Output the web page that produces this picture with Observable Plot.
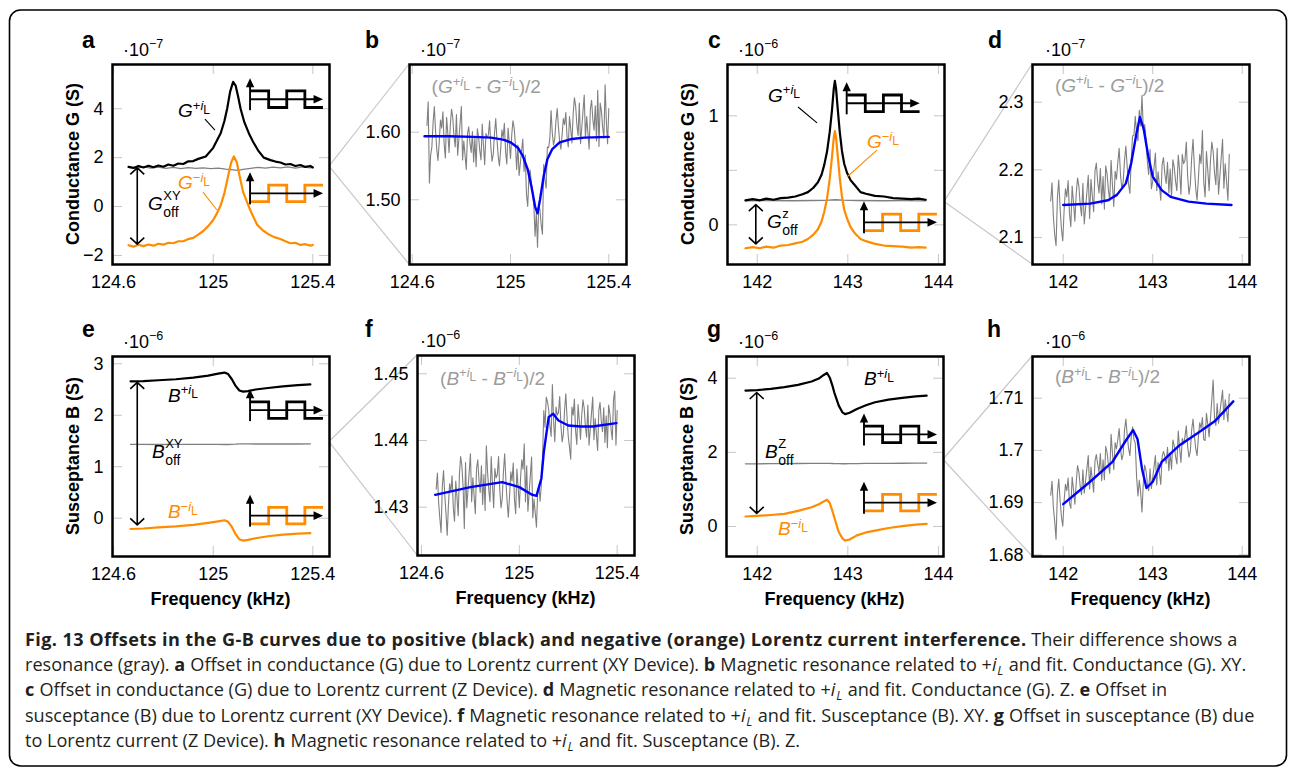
<!DOCTYPE html>
<html><head><meta charset="utf-8">
<script src="https://cdn.jsdelivr.net/npm/d3@7"></script>
<script src="https://cdn.jsdelivr.net/npm/@observablehq/plot@0.6"></script>
<style>
body{margin:0;background:#fff;}
#fig{position:relative;width:1295px;height:769px;overflow:hidden;background:#fff;}
</style></head><body><div id="fig"></div>
<script>
// ================= DATA =================
const xTicksXY = [124.6, 125, 125.4];
const xTickLabelsXY = ["124.6", "125", "125.4"];
const xTicksZ = [142, 143, 144];
const xTickLabelsZ = ["142", "143", "144"];
const aYTicks = [-2, 0, 2, 4];          const aYTickLabels = ["−2", "0", "2", "4"];
const bYTicks = [1.5, 1.6];             const bYTickLabels = ["1.50", "1.60"];
const cYTicks = [0, 0.5, 1];            const cYTickLabels = ["0", "", "1"];
const dYTicks = [2.1, 2.2, 2.3];        const dYTickLabels = ["2.1", "2.2", "2.3"];
const eYTicks = [0, 1, 2, 3];           const eYTickLabels = ["0", "1", "2", "3"];
const fYTicks = [1.43, 1.44, 1.45];     const fYTickLabels = ["1.43", "1.44", "1.45"];
const gYTicks = [0, 2, 4];              const gYTickLabels = ["0", "2", "4"];
const hYTicks = [1.68, 1.69, 1.7, 1.71];const hYTickLabels = ["1.68", "1.69", "1.7", "1.71"];

// frequency sweeps (kHz) of the difference traces
const sweepXY = [124.660,124.665,124.670,124.675,124.680,124.685,124.690,124.695,124.700,124.705,
124.710,124.715,124.720,124.725,124.730,124.735,124.740,124.745,124.750,124.755,
124.760,124.765,124.770,124.775,124.780,124.785,124.790,124.795,124.800,124.805,
124.810,124.815,124.820,124.825,124.830,124.835,124.840,124.845,124.850,124.855,
124.860,124.865,124.870,124.875,124.880,124.885,124.890,124.895,124.900,124.905,
124.910,124.915,124.920,124.925,124.930,124.935,124.940,124.945,124.950,124.955,
124.960,124.965,124.970,124.975,124.980,124.985,124.990,124.995,125.000,125.005,
125.010,125.015,125.020,125.025,125.030,125.035,125.040,125.045,125.050,125.055,
125.060,125.065,125.070,125.075,125.080,125.085,125.090,125.095,125.100,125.105,
125.110,125.115,125.120,125.125,125.130,125.135,125.140,125.145,125.150,125.155,
125.160,125.165,125.170,125.175,125.180,125.185,125.190,125.195,125.200,125.205,
125.210,125.215,125.220,125.225,125.230,125.235,125.240,125.245,125.250,125.255,
125.260,125.265,125.270,125.275,125.280,125.285,125.290,125.295,125.300,125.305,
125.310,125.315,125.320,125.325,125.330,125.335,125.340,125.345,125.350,125.355,
125.360,125.365,125.370,125.375,125.380,125.385,125.390,125.395,125.400];
const sweepZ = [141.860,141.875,141.890,141.905,141.920,141.935,141.950,141.965,141.980,141.995,
142.010,142.025,142.040,142.055,142.070,142.085,142.100,142.115,142.130,142.145,
142.160,142.175,142.190,142.205,142.220,142.235,142.250,142.265,142.280,142.295,
142.310,142.325,142.340,142.355,142.370,142.385,142.400,142.415,142.430,142.445,
142.460,142.475,142.490,142.505,142.520,142.535,142.550,142.565,142.580,142.595,
142.610,142.625,142.640,142.655,142.670,142.685,142.700,142.715,142.730,142.745,
142.760,142.775,142.790,142.805,142.820,142.835,142.850,142.865,142.880,142.895,
142.910,142.925,142.940,142.955,142.970,142.985,143.000,143.015,143.030,143.045,
143.060,143.075,143.090,143.105,143.120,143.135,143.150,143.165,143.180,143.195,
143.210,143.225,143.240,143.255,143.270,143.285,143.300,143.315,143.330,143.345,
143.360,143.375,143.390,143.405,143.420,143.435,143.450,143.465,143.480,143.495,
143.510,143.525,143.540,143.555,143.570,143.585,143.600,143.615,143.630,143.645,
143.660,143.675,143.690,143.705,143.720,143.735,143.750,143.765,143.780,143.795,
143.810,143.825,143.840,143.855];

// ---- panel a : conductance, XY device (1e-7 S)
const aFreqPlus = [124.66,124.68,124.70,124.72,124.74,124.76,124.78,124.80,124.82,124.84,
124.86,124.88,124.90,124.92,124.94,124.97,125.00,125.03,125.045,125.056,
125.068,125.08,125.09,125.10,125.11,125.125,125.143,125.16,125.18,125.203,
125.23,125.25,125.27,125.29,125.31,125.33,125.35,125.37,125.39,125.40];
const aGPlus = [1.62,1.58,1.66,1.60,1.67,1.61,1.68,1.63,1.72,1.67,
1.76,1.74,1.85,1.86,1.95,2.05,2.4,3.0,3.5,4.0,
4.7,5.1,4.95,4.5,4.0,3.45,3.0,2.65,2.3,2.0,
1.9,1.84,1.8,1.72,1.74,1.66,1.7,1.62,1.66,1.6];
const aFreqMinus = [124.66,124.68,124.70,124.72,124.74,124.76,124.78,124.80,124.82,124.84,
124.86,124.88,124.90,124.92,124.94,124.96,124.98,125.00,125.015,125.03,
125.045,125.06,125.072,125.083,125.095,125.105,125.12,125.135,125.145,125.16,
125.177,125.20,125.22,125.245,125.27,125.29,125.31,125.33,125.35,125.37,
125.39,125.40];
const aGMinus = [-1.58,-1.64,-1.56,-1.62,-1.55,-1.6,-1.52,-1.56,-1.48,-1.5,
-1.42,-1.42,-1.33,-1.28,-1.15,-1.0,-0.8,-0.55,-0.28,0.05,
0.55,1.25,1.8,2.05,1.8,1.3,0.6,0.2,-0.05,-0.4,
-0.75,-0.98,-1.12,-1.25,-1.33,-1.42,-1.5,-1.48,-1.57,-1.54,
-1.6,-1.57];
const aFreqDiff = [124.66,124.69,124.72,124.75,124.78,124.81,124.84,124.87,124.90,124.93,
124.96,124.99,125.02,125.05,125.08,125.10,125.12,125.15,125.18,125.21,
125.24,125.27,125.30,125.33,125.36,125.39,125.40];
const aGDiff = [1.6,1.56,1.62,1.57,1.61,1.56,1.6,1.55,1.59,1.56,
1.58,1.55,1.57,1.53,1.5,1.48,1.52,1.56,1.6,1.57,
1.61,1.58,1.62,1.57,1.62,1.58,1.6];

// ---- panel b : (G+ - G-)/2, XY (1e-7 S)
const bGDiff = [1.610,1.645,1.525,1.566,1.578,1.614,1.638,1.602,1.574,1.558,
1.586,1.618,1.606,1.630,1.582,1.562,1.622,1.598,1.570,1.610,
1.634,1.622,1.594,1.578,1.626,1.566,1.590,1.614,1.638,
1.559,1.587,1.566,1.545,1.598,1.608,1.584,1.570,1.601,1.556,
1.591,1.549,1.605,1.594,1.573,1.559,1.612,1.580,1.552,1.598,
1.592,1.596,1.617,1.578,1.557,1.568,1.599,1.620,1.589,1.564,
1.550,1.575,1.603,1.592,1.613,1.571,1.553,1.606,1.585,1.561,
1.596,1.617,1.606,1.582,
1.545,1.581,1.536,1.554,1.572,1.590,1.542,1.566,
1.508,1.490,1.535,1.544,1.523,1.511,
1.491,1.446,1.481,1.430,1.495,1.484,1.463,1.449,
1.552,1.530,1.517,1.578,1.577,1.590,
1.632,1.599,1.581,1.590,1.617,1.635,1.608,1.587,1.575,1.596,1.620,1.611,1.629,1.593,1.578,1.623,1.605,1.584,
1.627,1.651,1.639,1.611,1.595,1.643,1.583,1.607,1.631,1.655,1.591,1.623,1.599,1.575,1.635,
1.647,1.619,1.603,1.639,1.587,1.662,1.579,1.643,1.631,1.607,1.591,1.670,1.615,1.583,1.635];
const bFitFreq = [124.65,124.75,124.85,124.92,124.97,125.00,125.03,125.05,125.07,125.085,
125.10,125.11,125.12,125.135,125.15,125.17,125.20,125.25,125.30,125.40];
const bFit = [1.594,1.594,1.593,1.592,1.589,1.585,1.577,1.565,1.545,1.52,
1.49,1.48,1.50,1.535,1.56,1.575,1.585,1.59,1.592,1.593];

// ---- panel c : conductance, Z device (1e-6 S)
const cFreq = [141.87,141.95,142.03,142.10,142.18,142.26,142.34,142.42,142.50,142.56,
142.62,142.67,142.71,142.74,142.77,142.80,142.825,142.845,142.857,142.87,
142.89,142.91,142.935,142.96,142.99,143.03,143.08,143.14,143.20,143.30,
143.40,143.50,143.60,143.70,143.78,143.86];
const cGPlus = [.225,.235,.225,.24,.23,.245,.25,.26,.28,.30,
.34,.39,.46,.55,.67,.85,1.05,1.25,1.32,1.25,
1.05,.86,.68,.56,.48,.41,.36,.30,.285,.265,
.26,.245,.24,.235,.24,.23];
const cGMinus = [-.215,-.205,-.215,-.2,-.21,-.19,-.185,-.17,-.155,-.13,
-.09,-.04,.03,.12,.24,.42,.62,.80,.86,.80,
.62,.44,.26,.14,.06,-.02,-.08,-.13,-.15,-.175,
-.19,-.195,-.2,-.21,-.205,-.21];
const cFreqDiff = [141.87,142.1,142.4,142.6,142.75,142.86,142.95,143.1,143.4,143.6,143.86];
const cGDiff = [.22,.223,.221,.223,.225,.23,.226,.223,.221,.222,.22];

// ---- panel d : (G+ - G-)/2, Z (1e-7 S)
const dGDiff = [2.154,2.181,2.131,2.104,2.088,2.158,2.185,2.145,2.113,2.095,
2.140,2.172,2.160,2.184,2.136,2.116,2.176,2.152,2.124,2.164,
2.188,2.176,2.148,2.132,2.180,2.120,2.144,2.168,2.192,2.128,
2.186,2.162,2.138,2.198,2.210,2.182,2.166,2.202,2.150,2.190,
2.142,2.206,2.194,2.170,2.154,2.214,2.178,2.146,2.198,2.186,
2.211,2.232,2.193,2.172,2.183,2.214,2.235,2.204,2.179,2.165,
2.216,2.250,2.251,2.279,2.253,2.243,2.288,2.265,2.310,2.259,
2.267,2.246,2.212,2.193,2.230,2.172,2.183,2.204,2.225,2.169,
2.197,2.176,2.155,2.208,2.218,2.194,2.180,2.211,2.166,2.201,
2.159,2.215,2.204,2.183,2.169,2.222,2.200,2.164,2.223,2.209,
2.214,2.241,2.191,2.164,2.178,2.218,2.245,2.205,2.173,2.155,
2.187,2.223,2.209,2.258,2.182,2.160,2.227,2.200,2.169,2.214,
2.241,2.227,2.196,2.178,2.232,2.164,2.191,2.218,2.245,2.173,
2.209,2.182,2.155,2.223];
const dFitFreq = [142.0,142.3,142.5,142.6,142.7,142.76,142.82,142.857,142.9,142.95,143.0,143.1,143.2,143.4,143.6,143.88];
const dFit = [2.148,2.15,2.155,2.163,2.18,2.21,2.255,2.278,2.26,2.22,2.19,2.17,2.16,2.153,2.15,2.148];

// ---- panel e : susceptance, XY device (1e-6 S)
const eFreq = [124.668,124.72,124.78,124.85,124.92,124.98,125.02,125.045,125.06,125.075,
125.09,125.105,125.12,125.14,125.17,125.22,125.28,125.34,125.39];
const eBPlus = [2.66,2.665,2.68,2.70,2.73,2.77,2.81,2.83,2.80,2.70,
2.57,2.48,2.46,2.47,2.50,2.53,2.56,2.585,2.60];
const eBMinus = [-0.21,-0.2,-0.18,-0.16,-0.13,-0.09,-0.06,-0.04,-0.07,-0.17,
-0.31,-0.41,-0.435,-0.42,-0.39,-0.35,-0.32,-0.30,-0.29];
const eBDiff = [1.435,1.433,1.432,1.433,1.434,1.434,1.433,1.432,1.432,1.435,
1.438,1.443,1.444,1.443,1.442,1.442,1.442,1.442,1.443];

// ---- panel f : (B+ - B-)/2, XY (1e-6 S)
const fBDiff = [1.4327,1.4351,1.4307,1.4283,1.4262,1.4331,1.4355,1.4319,1.4291,1.4258,
1.4303,1.4335,1.4323,1.4347,1.4299,1.4279,1.4339,1.4315,1.4287,
1.4349,1.4376,1.4362,1.4331,1.4268,1.4367,1.4299,1.4326,1.4353,1.4380,
1.4308,1.4344,1.4317,1.4290,1.4358,1.4371,1.4340,1.4322,1.4362,1.4304,
1.4349,1.4295,1.4392,1.4353,1.4326,1.4308,1.4376,1.4335,1.4299,1.4358,
1.4344,1.4349,1.4376,1.4326,1.4299,1.4313,1.4353,1.4380,1.4340,1.4308,
1.4285,1.4317,1.4353,1.4339,1.4366,1.4312,1.4290,1.4357,1.4330,1.4299,
1.4344,1.4371,1.4357,1.4395,1.4308,1.4362,1.4294,1.4321,1.4348,1.4375,
1.4284,1.4312,1.4291,1.4270,1.4323,1.4333,1.4309,
1.4335,1.4375,1.4445,1.4420,1.4465,
1.4458,1.4446,1.4422,1.4406,1.4484,1.4430,1.4398,1.4450,1.4438,1.4442,
1.4466,1.4422,1.4398,1.4410,1.4446,1.4470,1.4434,1.4406,1.4390,1.4372,
1.4450,1.4438,1.4462,1.4414,1.4394,1.4454,1.4430,1.4402,
1.4437,1.4461,1.4449,1.4421,1.4405,1.4453,1.4393,1.4417,1.4441,1.4465,
1.4401,1.4433,1.4409,1.4385,1.4445,1.4457,1.4429,1.4413,1.4449,1.4397,
1.4437,1.4389,1.4453,1.4441,1.4417,1.4401,1.4461,1.4474,1.4393,1.4445];
const fFitFreq = [124.656,124.8,124.93,125.0,125.05,125.07,125.09,125.1,125.12,125.138,125.16,125.2,125.25,125.3,125.397];
const fFit = [1.43185,1.433,1.43375,1.433,1.4319,1.4317,1.4343,1.43825,1.4435,1.444,1.443,1.44225,1.4421,1.4421,1.4426];

// ---- panel g : susceptance, Z device (1e-6 S)
const gFreq = [141.87,142.0,142.15,142.3,142.45,142.6,142.68,142.73,142.77,142.80,
142.83,142.85,142.9,142.94,142.97,143.02,143.1,143.2,143.3,143.45,
143.6,143.75,143.87];
const gBPlus = [3.667,3.68,3.71,3.757,3.82,3.91,3.99,4.08,4.14,4.02,
3.80,3.62,3.26,3.08,3.03,3.07,3.17,3.27,3.35,3.42,
3.47,3.51,3.53];
const gBMinus = [0.27,0.285,0.31,0.34,0.42,0.52,0.60,0.67,0.72,0.64,
0.42,0.25,-0.15,-0.32,-0.38,-0.35,-0.24,-0.16,-0.11,-0.04,
0.01,0.05,0.07];
const gBDiff = [1.69,1.691,1.694,1.697,1.699,1.701,1.702,1.703,1.704,1.703,
1.699,1.697,1.694,1.693,1.693,1.695,1.698,1.700,1.702,1.704,
1.706,1.708,1.709];

// ---- panel h : (B+ - B-)/2, Z (1e-6 S)
const hBDiff = [1.6914,1.6941,1.6891,1.6864,1.6830,1.6918,1.6945,1.6905,1.6873,1.6855,
1.6903,1.6935,1.6923,1.6947,1.6899,1.6889,1.6949,1.6925,1.6897,1.6937,
1.6971,1.6959,1.6931,1.6915,1.6963,1.6918,1.6942,1.6966,1.6990,1.6926,
1.6968,1.6944,1.6920,1.6980,1.6992,1.6974,1.6958,1.6994,1.6942,1.6982,
1.6944,1.7008,1.6996,1.6972,1.6956,1.7031,1.6995,1.6963,1.7015,1.7003,
1.7021,1.7042,1.7003,1.6982,1.6993,1.7039,1.7060,1.7029,1.7004,1.6990,
1.7026,1.7045,1.7021,1.7014,1.6948,1.6913,1.6943,1.6920,1.6882,1.6939,
1.6972,1.6961,1.6937,1.6923,1.6965,1.6927,1.6948,1.6969,1.6990,1.6934,
1.6977,1.6956,1.6935,1.6988,1.6998,1.6989,1.6975,1.7006,1.6961,1.6996,
1.6964,1.7020,1.7009,1.6988,1.6974,1.7037,1.7005,1.6977,1.7023,1.7012,
1.7026,1.7047,1.7008,1.6987,1.6998,1.7039,1.7060,1.7029,1.7004,1.6990,
1.7025,1.7053,1.7042,1.7063,1.7021,1.7019,1.7071,1.7050,1.7026,1.7061,
1.7097,1.7135,1.7062,1.7048,1.7090,1.7052,1.7073,1.7094,1.7115,1.7059,
1.7097,1.7076,1.7055,1.7108];
const hFitFreq = [142.0,142.3,142.55,142.7,142.78,142.83,142.88,142.93,143.0,143.1,143.3,143.5,143.7,143.9];
const hFit = [1.6897,1.694,1.6978,1.7019,1.7039,1.7022,1.6965,1.6928,1.694,1.6978,1.701,1.7033,1.7057,1.7094];

// caption lines: [text, style]
const captionLines = [
 [["Fig. 13 Offsets in the G-B curves due to positive (black) and negative (orange) Lorentz current interference.","b"],[" Their difference shows a",""]],
 [["resonance (gray). ",""],["a","b"],[" Offset in conductance (G) due to Lorentz current (XY Device). ",""],["b","b"],[" Magnetic resonance related to ",""],["+","m"],["i","i"],["L","sub"],[" and fit. Conductance (G). XY.",""]],
 [["c","b"],[" Offset in conductance (G) due to Lorentz current (Z Device). ",""],["d","b"],[" Magnetic resonance related to ",""],["+","m"],["i","i"],["L","sub"],[" and fit. Conductance (G). Z. ",""],["e","b"],[" Offset in",""]],
 [["susceptance (B) due to Lorentz current (XY Device). ",""],["f","b"],[" Magnetic resonance related to ",""],["+","m"],["i","i"],["L","sub"],[" and fit. Susceptance (B). XY. ",""],["g","b"],[" Offset in susceptance (B) due",""]],
 [["to Lorentz current (Z Device). ",""],["h","b"],[" Magnetic resonance related to ",""],["+","m"],["i","i"],["L","sub"],[" and fit. Susceptance (B). Z.",""]]
];

// ================= STYLE / LAYOUT =================
const FONT = "'Liberation Sans', Arial, Helvetica, sans-serif";
const ORANGE = "#ff8c00", GREY = "#808080", BLUE = "#0000ff", TICK = "#c6c6c6", LABELGREY = "#9c9c9c", CONN = "#c8c8c8";
const FW = 217, FH = 200, ML = 70, MR = 16, MT = 32, MB = 64, TICKLEN = 10;

const S = (x, y, stroke, w) => ({x, y, stroke, w});

const panels = [
 {id:"a", L:112, T:64, xd:[124.5956,125.467], yd:[-2.37,5.81], xt:xTicksXY, xl:xTickLabelsXY, yt:aYTicks, yl:aYTickLabels,
  exp:"−7", expDx:11, ytitle:"Conductance G (S)", letterDx:-30, letterY:48,
  series:[S(aFreqDiff,aGDiff,GREY,1.3), S(aFreqPlus,aGPlus,"#000",2.2), S(aFreqMinus,aGMinus,ORANGE,2.2)],
  notes:[
   {kind:"iL", base:"G", sign:"+", x:124.861, y:3.64, color:"#000"},
   {kind:"iL", base:"G", sign:"−", x:124.861, y:0.695, color:ORANGE},
   {kind:"off", base:"G", sup:"XY", x:124.74, y:-0.164},
   {kind:"leader", x1:124.969, y1:3.56, x2:125.009, y2:3.11, color:"#000"},
   {kind:"leader", x1:124.961, y1:0.57, x2:125.017, y2:-0.16, color:ORANGE},
   {kind:"arrow2", x:124.697, y1:1.56, y2:-1.56},
   {kind:"icon", x:125.15, y:4.37, color:"#000", high:true},
   {kind:"icon", x:125.15, y:0.52, color:ORANGE, high:false}
  ], zoomTo:"b", zoomLevel:1.63},
 {id:"b", L:409, T:64, xd:[124.589,125.472], yd:[1.4043,1.7001], xt:xTicksXY, xl:xTickLabelsXY, yt:bYTicks, yl:bYTickLabels,
  exp:"−7", expDx:11, letterDx:-44, letterY:48,
  series:[S(sweepXY,bGDiff,GREY,1.1), S(bFitFreq,bFit,BLUE,2.4)],
  notes:[{kind:"diff", base:"G", x:124.681, y:1.6568}]},
 {id:"c", L:727, T:64, xd:[141.672,144.067], yd:[-0.364,1.4706], xt:xTicksZ, xl:xTickLabelsZ, yt:cYTicks, yl:cYTickLabels,
  exp:"−6", expDx:11, ytitle:"Conductance G (S)", letterDx:-19, letterY:48,
  series:[S(cFreqDiff,cGDiff,GREY,1.3), S(cFreq,cGPlus,"#000",2.2), S(cFreq,cGMinus,ORANGE,2.2)],
  notes:[
   {kind:"iL", base:"G", sign:"+", x:142.125, y:1.125, color:"#000"},
   {kind:"iL", base:"G", sign:"−", x:143.217, y:0.70, color:ORANGE},
   {kind:"off", base:"G", sup:"z", x:142.114, y:-0.034},
   {kind:"leader", x1:142.456, y1:1.076, x2:142.666, y2:0.93, color:"#000"},
   {kind:"leader", x1:143.327, y1:0.68, x2:142.996, y2:0.434, color:ORANGE},
   {kind:"arrow2", x:141.99, y1:0.18, y2:-0.18},
   {kind:"icon", x:142.993, y:1.11, color:"#000", high:true},
   {kind:"icon", x:143.184, y:0.018, color:ORANGE, high:false}
  ], zoomTo:"d", zoomLevel:0.21},
 {id:"d", L:1032, T:64, xd:[141.657,144.081], yd:[2.0601,2.3557], xt:xTicksZ, xl:xTickLabelsZ, yt:dYTicks, yl:dYTickLabels,
  exp:"−7", expDx:13, letterDx:-44, letterY:48,
  series:[S(sweepZ,dGDiff,GREY,1.1), S(dFitFreq,dFit,BLUE,2.4)],
  notes:[{kind:"diff", base:"G", x:141.914, y:2.3148}]},
 {id:"e", L:112, T:356, xd:[124.5956,125.467], yd:[-0.744,3.1418], xt:xTicksXY, xl:xTickLabelsXY, yt:eYTicks, yl:eYTickLabels,
  exp:"−6", expDx:11, ytitle:"Susceptance B (S)", xtitle:"Frequency (kHz)", letterDx:-30, letterY:337,
  series:[S(eFreq,eBDiff,GREY,1.3), S(eFreq,eBPlus,"#000",2.2), S(eFreq,eBMinus,ORANGE,2.2)],
  notes:[
   {kind:"iL", base:"B", sign:"+", x:124.8205, y:2.254, color:"#000"},
   {kind:"off", base:"B", sup:"XY", x:124.756, y:1.16},
   {kind:"iL", base:"B", sign:"−", x:124.82, y:-0.006, color:ORANGE},
   {kind:"arrow2", x:124.697, y1:2.63, y2:-0.14},
   {kind:"icon", x:125.15, y:2.09, color:"#000", high:true},
   {kind:"icon", x:125.15, y:0.04, color:ORANGE, high:false}
  ], zoomTo:"f", zoomLevel:1.48},
 {id:"f", L:417, T:355, xd:[124.5836,125.4708], yd:[1.42275,1.45274], xt:xTicksXY, xl:xTickLabelsXY, yt:fYTicks, yl:fYTickLabels,
  exp:"−6", expDx:3, xtitle:"Frequency (kHz)", letterDx:-52, letterY:337,
  series:[S(sweepXY,fBDiff,GREY,1.1), S(fFitFreq,fFit,BLUE,2.4)],
  notes:[{kind:"diff", base:"B", x:124.678, y:1.44825}]},
 {id:"g", L:726, T:356, xd:[141.661,144.056], yd:[-0.809,4.585], xt:xTicksZ, xl:xTickLabelsZ, yt:gYTicks, yl:gYTickLabels,
  exp:"−6", expDx:12, ytitle:"Susceptance B (S)", xtitle:"Frequency (kHz)", letterDx:-19, letterY:337,
  series:[S(gFreq,gBDiff,GREY,1.3), S(gFreq,gBPlus,"#000",2.2), S(gFreq,gBMinus,ORANGE,2.2)],
  notes:[
   {kind:"iL", base:"B", sign:"+", x:143.184, y:3.80, color:"#000"},
   {kind:"off", base:"B", sup:"Z", x:142.092, y:1.834},
   {kind:"iL", base:"B", sign:"−", x:142.235, y:-0.243, color:ORANGE},
   {kind:"arrow2", x:142.0, y1:3.6, y2:0.34},
   {kind:"icon", x:143.184, y:2.47, color:"#000", high:true},
   {kind:"icon", x:143.184, y:0.63, color:ORANGE, high:false}
  ], zoomTo:"h", zoomLevel:1.8},
 {id:"h", L:1032, T:356, xd:[141.657,144.081], yd:[1.67968,1.71799], xt:xTicksZ, xl:xTickLabelsZ, yt:hYTicks, yl:hYTickLabels,
  exp:"−6", expDx:13, xtitle:"Frequency (kHz)", letterDx:-45, letterY:337,
  series:[S(sweepZ,hBDiff,GREY,1.1), S(hFitFreq,hFit,BLUE,2.4)],
  notes:[{kind:"diff", base:"B", x:141.914, y:1.71276}]}
];

// ================= DRAW =================
const fig = document.getElementById("fig");
const overlay = d3.select(fig).append("svg").attr("width",1295).attr("height",769)
  .style("position","absolute").style("left","0px").style("top","0px");

// base letter with superscript "±i" and sub-superscript "L" (relative shifts only)
function termIL(t, base, sign, dy0){
  t.append("tspan").attr("dy",dy0).attr("font-style","italic").text(base);
  t.append("tspan").attr("dy",-7.5).attr("font-size",13).text(sign);
  t.append("tspan").attr("font-size",13).attr("font-style","italic").text("i");
  t.append("tspan").attr("dy",4).attr("font-size",12).text("L");
  return 3.5; // shift back to the baseline
}
function iLabel(g, x, y, base, sign, color){
  const t = g.append("text").attr("x",x).attr("y",y).attr("fill",color).attr("font-size",19);
  termIL(t, base, sign, 0);
}
function offLabel(g, x, y, base, sup){
  const t = g.append("text").attr("x",x).attr("y",y).attr("font-size",19).attr("font-style","italic").text(base);
  const w = t.node().getComputedTextLength();
  g.append("text").attr("x",x+w+0.5).attr("y",y-10).attr("font-size",13).text(sup);
  g.append("text").attr("x",x+w+0.5).attr("y",y+6.5).attr("font-size",14).text("off");
}
function diffLabel(g, x, y, base){
  const t = g.append("text").attr("x",x).attr("y",y).attr("fill",LABELGREY).attr("font-size",19).style("white-space","pre");
  t.append("tspan").text("(");
  let back = termIL(t, base, "+", 0);
  t.append("tspan").attr("dy",back).text(" - ");
  back = termIL(t, base, "−", 0);
  t.append("tspan").attr("dy",back).text(")/2");
}
function icon(g, x, y, color, high){
  const A = 8.3, h = 18.1, Lx = 73, s = high ? -1 : 1;
  const pts = [[0,s],[h,s],[h,-s],[2*h,-s],[2*h,s],[3*h,s],[3*h,-s],[4*h,-s]];
  g.append("path").attr("d", d3.line()(pts.map(([a,b]) => [x+a+0.5, y+b*A])))
    .attr("fill","none").attr("stroke",color).attr("stroke-width",2.8);
  g.append("path").attr("d",`M${x},${y+11}V${y-13}`).attr("stroke","#000").attr("stroke-width",1.9);
  g.append("path").attr("d",`M${x-4.2},${y-12}L${x},${y-21}L${x+4.2},${y-12}Z`).attr("fill","#000");
  g.append("path").attr("d",`M${x},${y}H${x+Lx-6}`).attr("stroke","#000").attr("stroke-width",1.9);
  g.append("path").attr("d",`M${x+Lx-9.5},${y-4.3}L${x+Lx},${y}L${x+Lx-9.5},${y+4.3}Z`).attr("fill","#000");
}
function arrow2(g, x, ya, yb){
  g.append("path").attr("d",`M${x},${ya}V${yb}M${x-7},${ya+6.5}L${x},${ya}L${x+7},${ya+6.5}M${x-7},${yb-6.5}L${x},${yb}L${x+7},${yb-6.5}`)
    .attr("fill","none").attr("stroke","#000").attr("stroke-width",1.6).attr("stroke-linejoin","round");
}

const made = {};
for (const p of panels){
  const [x0,x1] = p.xd, [y0,y1] = p.yd;
  const fx = (x1-x0)*TICKLEN/FW, fy = (y1-y0)*TICKLEN/FH;
  const xl = new Map(p.xt.map((v,i) => [v, p.xl[i]]));
  const yl = new Map(p.yt.map((v,i) => [v, p.yl[i]]));
  const marks = [
    Plot.ruleX(p.xt, {y1:y0, y2:y0+fy, stroke:TICK, strokeWidth:1}),
    Plot.ruleX(p.xt, {y1:y1-fy, y2:y1, stroke:TICK, strokeWidth:1}),
    Plot.ruleY(p.yt, {x1:x0, x2:x0+fx, stroke:TICK, strokeWidth:1}),
    Plot.ruleY(p.yt, {x1:x1-fx, x2:x1, stroke:TICK, strokeWidth:1}),
    ...p.series.map(s => Plot.line(s.x.map((x,i) => ({x, y:s.y[i]})),
        {x:"x", y:"y", stroke:s.stroke, strokeWidth:s.w, strokeLinejoin:"round"})),
    Plot.axisX(p.xt, {tickSize:0, tickPadding:11, tickFormat:d => xl.get(d), fontSize:18, label:null}),
    Plot.axisY(p.yt, {tickSize:0, tickPadding:9, tickFormat:d => yl.get(d), fontSize:18, label:null}),
    Plot.frame({stroke:"#000", strokeWidth:2.5})
  ];
  const svg = Plot.plot({
    width:FW+ML+MR, height:FH+MT+MB,
    marginLeft:ML, marginRight:MR, marginTop:MT, marginBottom:MB,
    x:{domain:p.xd, label:null}, y:{domain:p.yd, label:null},
    style:{background:"transparent", fontFamily:FONT, fontSize:"18px", color:"#000", overflow:"visible"},
    marks
  });
  svg.style.position = "absolute";
  svg.style.left = (p.L - ML) + "px";
  svg.style.top = (p.T - MT) + "px";
  svg.style.maxWidth = "none";
  fig.appendChild(svg);

  const SX = svg.scale("x"), SY = svg.scale("y");
  const X = d3.scaleLinear(SX.domain, SX.range), Y = d3.scaleLinear(SY.domain, SY.range);
  const g = d3.select(svg).append("g").attr("font-family",FONT).attr("fill","#000").attr("text-anchor","start");

  // exponent "·10^−n"
  const e = g.append("text").attr("x",ML+p.expDx).attr("y",MT-8).attr("font-size",18);
  e.append("tspan").text("·10");
  e.append("tspan").attr("dy",-8).attr("font-size",12.5).text(p.exp);
  if (p.ytitle) g.append("text").attr("transform",`translate(${ML-33},${MT+FH/2}) rotate(-90)`)
      .attr("text-anchor","middle").attr("font-weight","bold").attr("font-size",18).text(p.ytitle);
  if (p.xtitle) g.append("text").attr("x",ML+FW/2).attr("y",MT+FH+49)
      .attr("text-anchor","middle").attr("font-weight","bold").attr("font-size",18).text(p.xtitle);

  for (const n of p.notes){
    if (n.kind === "iL") iLabel(g, X(n.x), Y(n.y), n.base, n.sign, n.color);
    else if (n.kind === "off") offLabel(g, X(n.x), Y(n.y), n.base, n.sup);
    else if (n.kind === "diff") diffLabel(g, X(n.x), Y(n.y), n.base);
    else if (n.kind === "leader") g.append("line").attr("x1",X(n.x1)).attr("y1",Y(n.y1)).attr("x2",X(n.x2)).attr("y2",Y(n.y2))
        .attr("stroke",n.color).attr("stroke-width",1.1);
    else if (n.kind === "arrow2") arrow2(g, X(n.x), Y(n.y1), Y(n.y2));
    else if (n.kind === "icon") icon(g, X(n.x), Y(n.y), n.color, n.high);
  }
  made[p.id] = {p, X, Y, ox:p.L-ML, oy:p.T-MT};
}

// outer border
overlay.append("rect").attr("x",9.5).attr("y",10).attr("width",1277).attr("height",756).attr("rx",11)
  .attr("fill","none").attr("stroke","#000").attr("stroke-width",1.6);

// panel letters
for (const p of panels){
  overlay.append("text").attr("x",p.L+p.letterDx).attr("y",p.letterY).attr("font-family",FONT)
    .attr("font-weight","bold").attr("font-size",23).text(p.id);
}
// zoom connectors
for (const p of panels){
  if (!p.zoomTo) continue;
  const A = made[p.id], B = made[p.zoomTo];
  const sx = A.ox + A.X(p.xd[1]), sy = A.oy + A.Y(p.zoomLevel);
  const bx = B.ox + B.X(B.p.xd[0]);
  for (const yv of [B.p.yd[1], B.p.yd[0]]){
    overlay.append("line").attr("x1",sx).attr("y1",sy).attr("x2",bx).attr("y2",B.oy + B.Y(yv))
      .attr("stroke",CONN).attr("stroke-width",1.2);
  }
}

// caption
const cap = overlay.append("g").attr("font-family","'Open Sans', 'Liberation Sans', sans-serif").attr("font-size",18.1).attr("fill","#231f20");
captionLines.forEach((line, k) => {
  const y = 646 + k*25.2;
  const t = cap.append("text").attr("x",25).attr("y",y).style("white-space","pre");
  let low = false;
  for (const [s, st] of line){
    const ts = t.append("tspan").text(s);
    if (st === "sub") { ts.attr("dy",4).attr("dx",0.8).attr("font-size",12.5).attr("font-style","italic"); low = true; continue; }
    if (low) { ts.attr("dy",-4).attr("dx",0.8); low = false; }
    if (st === "i") ts.attr("font-style","italic");
    else if (st === "b") ts.attr("font-weight",700).style("letter-spacing","0.4px");
  }
});
</script></body></html>
